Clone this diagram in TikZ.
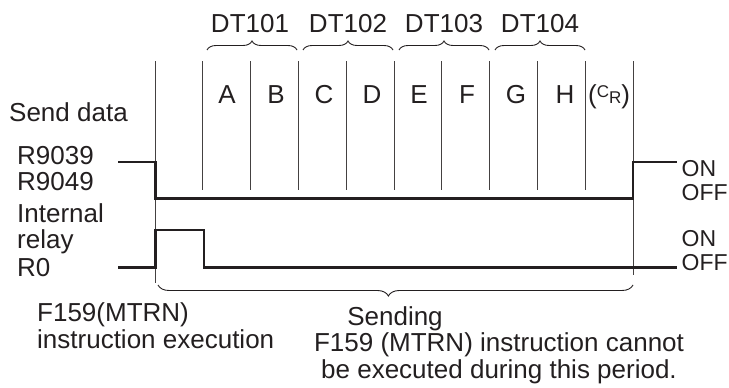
\documentclass[tikz,border=0pt]{standalone}
\usepackage{fontspec}
\setmainfont{Liberation Sans}
\usetikzlibrary{decorations.pathreplacing}
\definecolor{ink}{HTML}{231F20}
\begin{document}
\begin{tikzpicture}[x=1pt,y=-1pt,
  lbl/.style={inner sep=0pt, font=\fontsize{26}{26}\selectfont, text=ink},
  onoff/.style={inner sep=0pt, font=\fontsize{23}{23}\selectfont, text=ink, anchor=base west},
  sig/.style={draw=ink, line width=2.4pt, line join=miter},
  gridln/.style={draw=ink!85, line width=0.9pt},
  brc/.style={draw=ink, line width=0.9pt, decorate, decoration={brace, amplitude=#1}},
  brc/.default=9pt
]
\useasboundingbox (0,0) rectangle (729,388);

% grid lines
\foreach \i/\x in {1/202.8,2/250.6,3/298.4,4/346.2,5/394,6/441.8,7/489.6,8/537.4,9/585.2}{
  \coordinate (g\i t) at (\x,61);
  \coordinate (g\i b) at (\x,190);
  \draw[gridln] (g\i t) -- (g\i b);
}
\coordinate (g0t) at (155.5,61);  \coordinate (g0b) at (155.5,283);
\coordinate (g10t) at (633,61);   \coordinate (g10b) at (633,275);
\draw[gridln] (g0t) -- (g0b);
\draw[gridln] (g10t) -- (g10b);

% top braces
\coordinate (b1l) at (207,50);  \coordinate (b1r) at (297,50);
\coordinate (b2l) at (303,50);  \coordinate (b2r) at (393,50);
\coordinate (b3l) at (399,50);  \coordinate (b3r) at (489,50);
\coordinate (b4l) at (495,50);  \coordinate (b4r) at (585,50);
\draw[brc] (b1l) -- (b1r);
\draw[brc] (b2l) -- (b2r);
\draw[brc] (b3l) -- (b3r);
\draw[brc] (b4l) -- (b4r);

% DT labels
\node[lbl, anchor=base] (dt1) at (250,32) {DT101};
\node[lbl, anchor=base] (dt2) at (348,32) {DT102};
\node[lbl, anchor=base] (dt3) at (444,32) {DT103};
\node[lbl, anchor=base] (dt4) at (540,32) {DT104};

% column letters
\node[lbl, anchor=base] (cA) at (227,103) {A};
\node[lbl, anchor=base] (cB) at (276,103) {B};
\node[lbl, anchor=base] (cC) at (324,103) {C};
\node[lbl, anchor=base] (cD) at (372,103) {D};
\node[lbl, anchor=base] (cE) at (419,103) {E};
\node[lbl, anchor=base] (cF) at (467,103) {F};
\node[lbl, anchor=base] (cG) at (516,103) {G};
\node[lbl, anchor=base] (cH) at (565,103) {H};
\node[lbl, anchor=base west] (cCR) at (588,103) {(\fontsize{17}{17}\selectfont\raisebox{6pt}{C}R\fontsize{26}{26}\selectfont)};

% left labels
\node[lbl, anchor=base west] (send) at (9,121.7) {Send data};
\node[lbl, anchor=base west] (r9039) at (17,164) {R9039};
\node[lbl, anchor=base west] (r9049) at (17,190) {R9049};
\node[lbl, anchor=base west] (intl) at (17,222) {Internal};
\node[lbl, anchor=base west] (relay) at (17,248.3) {relay};
\node[lbl, anchor=base west] (r0) at (17,276.7) {R0};

% signals
\coordinate (a0) at (118,161.7);
\coordinate (a1) at (155.5,161.7);
\coordinate (a2) at (155.5,198.3);
\coordinate (a3) at (633,198.3);
\coordinate (a4) at (633,161.7);
\coordinate (a5) at (676.7,161.7);
\draw[sig] (a0) -- (a1) -- (a2) -- (a3) -- (a4) -- (a5);

\coordinate (c0) at (118,267.3);
\coordinate (c1) at (155.5,267.3);
\coordinate (c2) at (155.5,230);
\coordinate (c3) at (204,230);
\coordinate (c4) at (204,267.3);
\coordinate (c5) at (676.7,267.3);
\draw[sig] (c0) -- (c1) -- (c2) -- (c3) -- (c4) -- (c5);

% ON / OFF
\node[onoff] (on1) at (681.5,176.7) {ON};
\node[onoff] (off1) at (681.5,200) {OFF};
\node[onoff] (on2) at (681.5,246.7) {ON};
\node[onoff] (off2) at (681.5,270) {OFF};

% bottom brace
\coordinate (bbr) at (633,285);
\coordinate (bbl) at (158,285);
\draw[draw=ink, line width=0.9pt, decorate, decoration={brace, amplitude=11pt, aspect=0.515}] (bbr) -- (bbl);

% bottom texts
\node[lbl, anchor=base west] (f159) at (37,321.7) {F159(MTRN)};
\node[lbl, anchor=base west] (instr) at (37,348) {instruction execution};
\node[lbl, anchor=base] (sending) at (395,325) {Sending};
\node[lbl, anchor=base] (cannot) at (499,351.7) {F159 (MTRN) instruction cannot};
\node[lbl, anchor=base] (period) at (499,378) {be executed during this period.};
\end{tikzpicture}
\end{document}
